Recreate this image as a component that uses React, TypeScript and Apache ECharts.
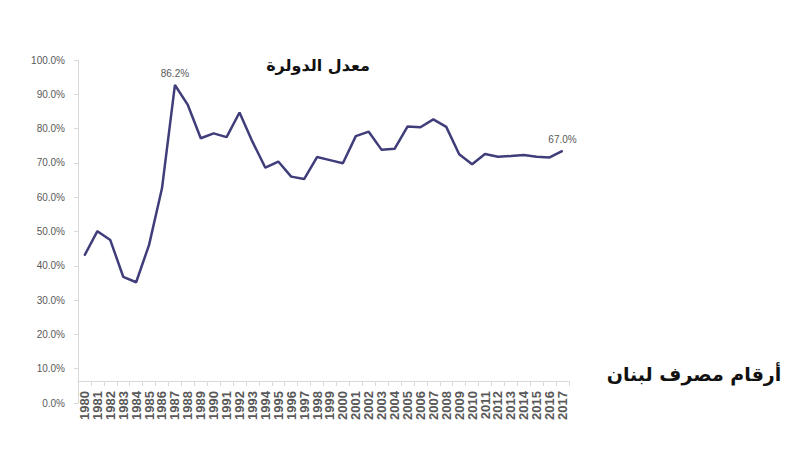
import React, { useEffect, useRef } from "react";
import * as echarts from "echarts";

const years = [
  "1980", "1981", "1982", "1983", "1984", "1985", "1986", "1987", "1988", "1989",
  "1990", "1991", "1992", "1993", "1994", "1995", "1996", "1997", "1998", "1999",
  "2000", "2001", "2002", "2003", "2004", "2005", "2006", "2007", "2008", "2009",
  "2010", "2011", "2012", "2013", "2014", "2015", "2016", "2017",
];

const dollarization = [
  43.0, 50.1, 47.5, 36.8, 35.2, 46.1, 62.6, 92.7, 86.9, 77.2,
  78.6, 77.5, 84.7, 76.2, 68.6, 70.4, 66.0, 65.3, 71.7, 70.8,
  69.9, 77.8, 79.1, 73.8, 74.1, 80.6, 80.4, 82.7, 80.5, 72.5,
  69.6, 72.6, 71.8, 72.0, 72.3, 71.8, 71.6, 73.5,
];

const annotations = [
  { year: "1987", text: "86.2%" },
  { year: "2017", text: "67.0%" },
];

const titleText = "معدل الدولرة";
const sourceText = "أرقام مصرف لبنان";

export default function App() {
  const ref = useRef<HTMLDivElement>(null);

  useEffect(() => {
    document.body.style.margin = "0";
    if (!ref.current) return;
    const chart = echarts.init(ref.current, null, { renderer: "svg" });

    const seriesData = dollarization.map((v, i) => {
      const ann = annotations.find((a) => a.year === years[i]);
      if (!ann) return v;
      return {
        value: v,
        label: {
          show: true,
          position: "top",
          distance: 6,
          formatter: ann.text,
          color: "#595959",
          fontSize: 10,
          fontFamily: "Liberation Sans",
        },
      };
    });

    chart.setOption({
      animation: false,
      backgroundColor: "#ffffff",
      grid: { left: 78, right: 240, top: 60, bottom: 53, containLabel: false },
      xAxis: {
        type: "category",
        data: years,
        boundaryGap: true,
        offset: -22,
        axisLine: { lineStyle: { color: "#d9d9d9", width: 1 } },
        axisTick: { show: true, length: 5, lineStyle: { color: "#d9d9d9" } },
        axisLabel: {
          interval: 0,
          rotate: 90,
          margin: 10,
          color: "#595959",
          fontSize: 13,
          fontWeight: "bold",
          fontFamily: "Liberation Sans",
        },
      },
      yAxis: {
        type: "value",
        min: 0,
        max: 100,
        interval: 10,
        axisLine: { show: true, lineStyle: { color: "#d9d9d9", width: 1 } },
        axisTick: { show: true, length: 4, lineStyle: { color: "#d9d9d9" } },
        splitLine: { show: false },
        axisLabel: {
          margin: 13,
          color: "#595959",
          fontSize: 10,
          fontFamily: "Liberation Sans",
          formatter: (v: number) => v.toFixed(1) + "%",
        },
      },
      series: [
        {
          type: "line",
          data: seriesData,
          symbol: "circle",
          symbolSize: 1,
          showSymbol: true,
          lineStyle: { color: "#3f3d7a", width: 2.5 },
          itemStyle: { color: "#3f3d7a" },
        },
      ],
      graphic: [
        {
          type: "text",
          x: 318,
          y: 65,
          style: {
            text: titleText,
            fill: "#111111",
            font: "bold 16px 'DejaVu Sans'",
            textAlign: "center",
            textVerticalAlign: "middle",
          },
        },
        {
          type: "text",
          x: 694,
          y: 374,
          style: {
            text: sourceText,
            fill: "#111111",
            font: "bold 19px 'DejaVu Sans'",
            textAlign: "center",
            textVerticalAlign: "middle",
          },
        },
      ],
    });

    return () => chart.dispose();
  }, []);

  return <div ref={ref} style={{ width: 809, height: 456 }} />;
}
